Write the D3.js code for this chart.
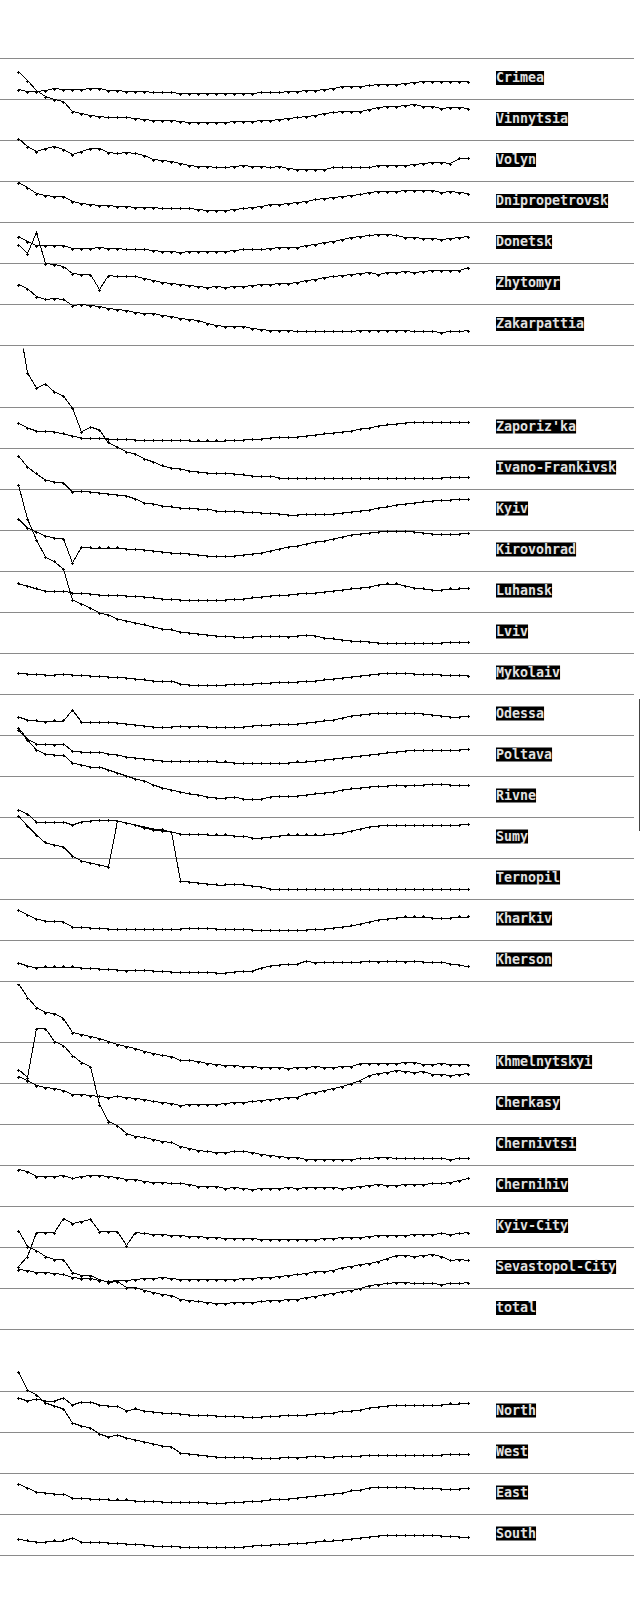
<!DOCTYPE html>
<html>
<head>
<meta charset="utf-8">
<script src="https://cdn.jsdelivr.net/npm/d3@7/dist/d3.min.js"></script>
<style>
  body { margin: 0; background: #fff; }
  .label { font-family: "DejaVu Sans Mono", monospace; font-size: 13.3px; font-weight: bold; fill: #e2e2e2; }
</style>
</head>
<body>
<script>
// rows, stacked in four blocks
var group1 = ["Crimea", "Vinnytsia", "Volyn", "Dnipropetrovsk", "Donetsk", "Zhytomyr", "Zakarpattia"];
var group2 = ["Zaporiz'ka", "Ivano-Frankivsk", "Kyiv", "Kirovohrad", "Luhansk", "Lviv", "Mykolaiv",
              "Odessa", "Poltava", "Rivne", "Sumy", "Ternopil", "Kharkiv", "Kherson"];
var group3 = ["Khmelnytskyi", "Cherkasy", "Chernivtsi", "Chernihiv", "Kyiv-City", "Sevastopol-City", "total"];
var group4 = ["North", "West", "East", "South"];

// 51 steps per series (level above the row's lower rule)
var crimea = [10,8,8,9,11,10,10,10,11,11,9,9,8,8,8,7,7,7,6,6,6,6,6,6,6,6,6,7,7,7,8,8,9,9,10,11,13,13,13,14,15,15,15,16,17,18,18,18,18,18,18];
var vinnytsia = [69,60,50,44,41,39,29,27,25,24,23,23,23,22,21,20,20,20,19,18,18,18,18,18,19,19,19,20,20,21,22,23,24,25,27,28,29,29,29,31,33,34,34,35,36,34,34,32,33,33,32];
var volyn = [43,35,30,33,35,32,27,30,33,33,29,28,29,28,26,22,21,20,18,16,15,15,14,14,15,16,15,15,14,15,13,12,12,12,12,14,14,14,14,14,16,16,16,16,17,18,19,19,18,23,23];
var dnipropetrovsk = [40,35,29,27,26,26,21,19,18,17,17,16,16,15,15,15,14,14,14,14,13,12,12,12,13,14,15,16,18,18,19,20,21,23,24,25,26,27,28,30,31,31,31,32,32,32,32,30,31,30,29];
var donetsk = [27,22,18,18,18,18,15,15,15,16,15,15,14,14,14,13,12,12,11,12,12,12,12,12,13,14,14,14,15,16,16,16,18,19,21,22,24,26,27,28,29,29,28,26,26,25,25,24,25,26,27];
var zhytomyr = [60,51,72,41,40,38,31,30,30,15,29,28,28,28,26,24,22,21,20,19,18,17,18,17,18,18,19,20,20,21,21,22,24,25,27,28,29,30,31,32,30,32,32,33,32,33,34,34,34,34,37];
var zakarpattia = [61,57,49,46,47,46,40,41,40,39,37,36,35,33,32,32,30,29,27,26,25,22,20,19,19,19,17,16,15,15,15,14,14,14,14,14,14,14,15,15,15,15,15,15,14,14,14,13,14,14,15];
var zaporizka = [25,20,17,17,16,14,12,10,10,10,9,9,9,8,8,8,8,8,8,7,7,7,7,7,8,8,9,9,10,11,11,11,12,13,14,15,16,17,19,20,22,23,24,25,26,26,26,26,26,26,26];
var ivanoFrankivsk = [169,116,101,105,97,93,81,57,62,59,46,42,37,35,30,27,23,21,20,18,17,16,16,16,15,14,13,13,13,11,11,11,11,11,11,11,11,11,11,11,11,11,11,11,11,11,11,11,12,12,12];
var kyiv = [74,63,56,50,48,47,38,39,38,37,36,35,34,31,27,26,24,23,22,22,21,21,19,19,19,18,18,17,17,16,15,15,16,16,16,16,17,18,19,20,22,23,25,26,27,28,29,30,30,31,31];
var kirovohrad = [52,43,39,35,33,32,8,24,23,23,23,23,22,22,21,20,19,18,18,17,16,15,15,15,15,16,17,18,20,22,24,25,27,29,30,32,34,36,37,38,39,40,40,40,39,38,37,37,37,37,38];
var luhansk = [28,26,23,21,21,21,19,19,18,17,17,17,16,16,15,14,13,13,12,12,12,12,12,12,13,13,14,15,16,17,17,18,19,19,20,21,22,23,24,25,27,28,28,26,24,23,22,22,23,23,24];
var lviv = [168,134,113,96,91,84,53,49,45,40,38,34,32,30,28,26,24,23,21,20,19,18,17,17,16,16,16,17,17,17,16,17,18,17,15,14,13,12,12,11,10,10,10,10,10,10,10,10,11,11,11];
var mykolaiv = [21,20,20,19,19,20,19,19,18,18,17,17,16,15,14,13,13,13,10,9,9,9,9,9,10,10,10,11,11,12,12,12,13,13,14,15,16,17,18,19,20,21,21,21,20,20,20,19,19,19,18];
var odessa = [18,15,14,13,14,14,25,13,13,13,13,12,11,10,9,8,8,8,9,8,9,8,8,8,8,8,9,10,10,11,11,11,12,13,14,15,17,19,20,21,22,22,22,22,22,21,20,19,18,18,19];
var poltava = [48,37,32,32,31,32,25,24,24,24,22,21,19,18,17,16,15,15,15,15,15,15,14,14,13,13,13,13,13,13,13,14,14,15,16,17,18,19,20,21,22,23,24,25,26,26,26,26,26,26,27];
var rivne = [87,77,67,63,62,62,54,52,50,50,47,44,41,38,36,32,29,27,25,23,22,20,19,19,20,18,18,18,20,21,21,21,22,23,24,25,27,28,29,30,31,31,32,31,32,32,33,33,32,32,32];
var sumy = [48,44,36,36,36,36,33,36,37,38,38,37,35,33,31,29,28,26,24,24,24,23,23,23,22,22,20,20,21,22,23,23,23,23,23,24,25,27,29,31,32,33,33,33,33,33,33,33,33,33,34];
var ternopil = [83,73,64,56,54,52,43,38,36,34,32,78,76,74,71,69,68,67,18,17,16,15,14,14,15,14,13,12,10,10,10,10,10,10,10,10,10,10,10,10,10,10,10,10,10,10,10,10,10,10,10];
var kharkiv = [30,25,21,19,19,18,13,13,12,12,11,11,11,11,11,11,11,11,11,12,12,12,11,11,11,11,10,10,10,10,10,10,10,11,11,12,13,14,16,18,20,21,22,23,23,23,22,22,22,23,23];
var kherson = [18,15,13,14,14,14,14,13,13,12,12,11,10,11,11,10,10,9,9,9,9,9,8,8,9,10,10,13,15,16,17,17,20,18,19,19,19,19,19,20,19,20,20,19,20,19,19,19,17,16,14];
var khmelnytskyi = [100,86,76,71,70,65,51,49,47,45,42,39,37,35,32,30,28,27,23,23,22,20,19,18,18,17,17,16,16,16,15,16,16,17,16,16,17,17,20,20,20,20,20,21,21,19,19,20,19,19,19];
var cherkasy = [48,44,39,37,36,34,30,30,29,28,27,28,27,26,25,23,22,21,19,20,20,20,20,21,22,22,23,24,25,26,27,27,31,32,34,36,38,41,44,49,51,52,54,53,52,53,50,50,49,50,51];
var chernivtsi = [96,88,137,137,124,120,110,103,99,61,44,40,32,29,28,26,24,23,19,17,15,14,13,13,14,14,13,11,10,9,8,8,6,6,6,6,6,6,7,7,8,8,7,7,7,7,7,7,6,7,7];
var chernihiv = [37,35,30,30,30,31,28,30,31,31,30,29,27,27,25,24,24,23,23,22,20,20,20,18,19,18,17,18,18,18,19,18,19,19,19,19,18,19,20,21,22,21,21,22,22,22,23,23,24,26,28];
var kyivCity = [-19,-9,15,15,15,29,24,26,28,16,16,16,2,15,14,13,13,12,12,11,11,10,10,9,9,9,9,8,8,8,8,8,8,8,9,9,10,10,10,11,12,12,12,12,13,13,13,14,13,14,15];
var sevastopolCity = [19,18,16,16,15,14,11,10,10,8,7,8,8,9,10,10,11,10,9,9,9,9,9,9,9,10,10,11,11,12,13,14,15,17,17,18,21,22,24,25,27,30,33,33,32,33,34,32,28,29,28];
var total = [99,83,79,73,70,70,57,54,54,50,47,48,42,42,39,37,35,34,30,29,28,27,26,26,27,27,27,28,29,29,30,30,32,33,35,36,38,39,41,44,45,46,47,47,46,46,46,45,46,46,47];
var north = [34,31,33,31,31,34,27,30,30,27,26,26,21,23,21,20,19,19,18,17,17,17,16,16,16,15,15,15,16,16,17,17,17,18,19,19,21,21,22,24,25,26,27,27,27,27,27,27,28,28,29];
var west = [101,83,78,70,67,64,50,47,45,39,36,38,35,33,31,29,27,26,20,19,18,17,16,16,16,16,15,15,15,15,16,15,16,17,16,16,17,17,17,18,18,18,18,18,18,18,18,18,19,19,19];
var east = [30,26,22,21,20,20,16,16,15,15,14,14,14,13,13,13,12,12,12,12,12,11,11,11,12,12,13,13,14,15,15,16,17,18,19,20,21,23,24,26,27,27,27,27,26,26,26,25,25,25,26];
var south = [16,14,13,13,14,14,17,13,13,13,12,12,11,11,10,9,9,9,8,8,8,8,8,8,8,8,9,10,10,11,11,12,12,13,14,14,15,16,17,18,19,20,20,20,20,20,20,19,19,18,18];

var seriesOf = {
  "Crimea": crimea, "Vinnytsia": vinnytsia, "Volyn": volyn, "Dnipropetrovsk": dnipropetrovsk,
  "Donetsk": donetsk, "Zhytomyr": zhytomyr, "Zakarpattia": zakarpattia,
  "Zaporiz'ka": zaporizka, "Ivano-Frankivsk": ivanoFrankivsk, "Kyiv": kyiv, "Kirovohrad": kirovohrad,
  "Luhansk": luhansk, "Lviv": lviv, "Mykolaiv": mykolaiv, "Odessa": odessa, "Poltava": poltava,
  "Rivne": rivne, "Sumy": sumy, "Ternopil": ternopil, "Kharkiv": kharkiv, "Kherson": kherson,
  "Khmelnytskyi": khmelnytskyi, "Cherkasy": cherkasy, "Chernivtsi": chernivtsi, "Chernihiv": chernihiv,
  "Kyiv-City": kyivCity, "Sevastopol-City": sevastopolCity, "total": total,
  "North": north, "West": west, "East": east, "South": south
};

var groups = [group1, group2, group3, group4];

var width = 640, height = 1600;
var rowH = 41;
var headH = 58;      // space above the first rule of a block
var tailH = 3;       // space below the last rule of a block
var ruleRight = 634;
var labelX = 496;

var x = d3.scaleLinear().domain([0, crimea.length - 1]).range([18.5, 468.5]);
var y = d3.scaleLinear().domain([0, rowH]).range([0, -rowH]);

var line = d3.line()
    .x(function(d, i) { return x(i); })
    .y(function(d) { return y(d); });

var svg = d3.select("body").append("svg")
    .attr("width", width)
    .attr("height", height);

svg.append("rect").attr("width", width).attr("height", height).attr("fill", "#fff");

var blockTop = 0;
groups.forEach(function(names, gi) {
    var firstRule = blockTop + headH + 0.5;
    var blockBottom = firstRule + names.length * rowH + tailH;

    svg.append("clipPath").attr("id", "clip" + gi)
      .append("rect")
        .attr("x", 0).attr("y", blockTop)
        .attr("width", width).attr("height", blockBottom - blockTop);

    var block = svg.append("g").attr("clip-path", "url(#clip" + gi + ")");

    // rules between rows
    block.selectAll("line.rule")
        .data(d3.range(names.length + 1))
        .enter().append("line")
        .attr("class", "rule")
        .attr("x1", 0).attr("x2", ruleRight)
        .attr("y1", function(i) { return firstRule + i * rowH; })
        .attr("y2", function(i) { return firstRule + i * rowH; })
        .attr("stroke", "#8a8a8a")
        .attr("shape-rendering", "crispEdges");

    var rows = block.selectAll("g.row")
        .data(names)
        .enter().append("g")
        .attr("class", "row")
        .attr("transform", function(d, i) { return "translate(0," + (firstRule + (i + 1) * rowH) + ")"; });

    rows.append("path")
        .attr("d", function(d) { return line(seriesOf[d]); })
        .attr("fill", "none")
        .attr("stroke", "#000")
        .attr("stroke-width", 1)
        .attr("shape-rendering", "crispEdges");

    rows.append("path")
        .attr("d", function(d) {
            return seriesOf[d].map(function(v, i) {
                var px = x(i), py = Math.round(y(v) - 0.5) + 0.5;
                return "M" + (px - 1.5) + "," + py + "h3M" + px + "," + (py - 1.5) + "v3";
            }).join("");
        })
        .attr("fill", "none")
        .attr("stroke", "#000")
        .attr("shape-rendering", "crispEdges");

    // labels on black tags, centred in each row
    var labels = svg.selectAll("g.lab" + gi)
        .data(names)
        .enter().append("g")
        .attr("class", "lab" + gi)
        .attr("transform", function(d, i) { return "translate(" + labelX + "," + (firstRule + i * rowH + rowH / 2 + 3) + ")"; });

    labels.append("text")
        .attr("class", "label")
        .text(function(d) { return d; });

    labels.each(function() {
        var g = d3.select(this);
        var bb = g.select("text").node().getBBox();
        g.insert("rect", "text")
            .attr("x", bb.x).attr("y", bb.y + 1)
            .attr("width", bb.width).attr("height", bb.height - 1)
            .attr("fill", "#000");
    });

    blockTop = blockBottom;
});

// thin bar at the right edge
svg.append("line")
    .attr("x1", 639.5).attr("x2", 639.5)
    .attr("y1", 699).attr("y2", 831)
    .attr("stroke", "#444")
    .attr("shape-rendering", "crispEdges");
</script>
</body>
</html>
